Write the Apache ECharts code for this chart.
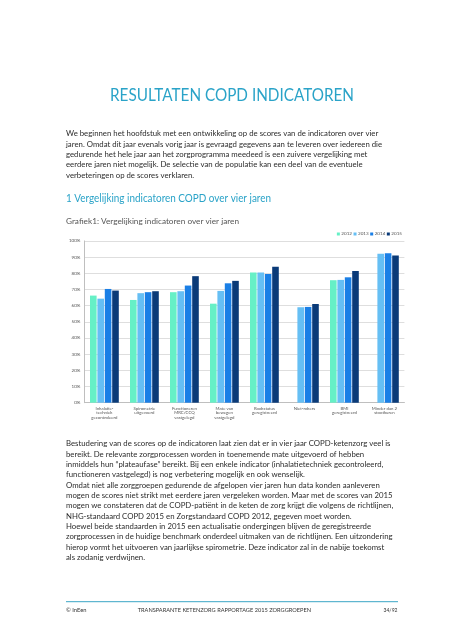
<!DOCTYPE html>
<html>
<head>
<meta charset="utf-8">
<script src="https://cdn.jsdelivr.net/npm/echarts@6/dist/echarts.min.js"></script>
<style>
html,body{margin:0;padding:0;background:#fff;}
#c{width:452px;height:640px;}
</style>
</head>
<body>
<div id="c"></div>
<script>
// ---- data ----
const categories = [
  "Inhalatie-\ntechniek\ngecontroleerd",
  "Spirometrie\nuitgevoerd",
  "Functioneren\nMRC/CCQ\nvastgelegd",
  "Mate van\nbewegen\nvastgelegd",
  "Rookstatus\ngeregistreerd",
  "Niet-rokers",
  "BMI\ngeregistreerd",
  "Minder dan 2\nstootkuren"
];
const years = ["2012", "2013", "2014", "2015"];
const values2012 = [0.662, 0.635, 0.683, 0.612, 0.805, null, 0.757, null];
const values2013 = [0.643, 0.677, 0.689, 0.691, 0.805, 0.590, 0.759, 0.920];
const values2014 = [0.703, 0.683, 0.724, 0.738, 0.796, 0.592, 0.775, 0.924];
const values2015 = [0.693, 0.689, 0.782, 0.753, 0.841, 0.610, 0.814, 0.909];
const yTicks = [0, 0.1, 0.2, 0.3, 0.4, 0.5, 0.6, 0.7, 0.8, 0.9, 1.0];

const pageTitle = "RESULTATEN COPD INDICATOREN";
const para1 = [
  "We beginnen het hoofdstuk met een ontwikkeling op de scores van de indicatoren over vier",
  "jaren. Omdat dit jaar evenals vorig jaar is gevraagd gegevens aan te leveren over iedereen die",
  "gedurende het hele jaar aan het zorgprogramma meedeed is een zuivere vergelijking met",
  "eerdere jaren niet mogelijk. De selectie van de populatie kan een deel van de eventuele",
  "verbeteringen op de scores verklaren."
];
const heading = "1 Vergelijking indicatoren COPD over vier jaren";
const caption = "Grafiek1: Vergelijking indicatoren over vier jaren";
const para2 = [
  "Bestudering van de scores op de indicatoren laat zien dat er in vier jaar COPD-ketenzorg veel is",
  "bereikt. De relevante zorgprocessen worden in toenemende mate uitgevoerd of hebben",
  "inmiddels hun \u201Cplateaufase\u201D bereikt. Bij een enkele indicator (inhalatietechniek gecontroleerd,",
  "functioneren vastgelegd) is nog verbetering mogelijk en ook wenselijk.",
  "Omdat niet alle zorggroepen gedurende de afgelopen vier jaren hun data konden aanleveren",
  "mogen de scores niet strikt met eerdere jaren vergeleken worden. Maar met de scores van 2015",
  "mogen we constateren dat de COPD-pati\u00EBnt in de keten de zorg krijgt die volgens de richtlijnen,",
  "NHG-standaard COPD 2015 en Zorgstandaard COPD 2012, gegeven moet worden.",
  "Hoewel beide standaarden in 2015 een actualisatie ondergingen blijven de geregistreerde",
  "zorgprocessen in de huidige benchmark onderdeel uitmaken van de richtlijnen. Een uitzondering",
  "hierop vormt het uitvoeren van jaarlijkse spirometrie. Deze indicator zal in de nabije toekomst",
  "als zodanig verdwijnen."
];
const footerLeft = "\u00A9 InEen";
const footerMid = "TRANSPARANTE KETENZORG RAPPORTAGE 2015 ZORGGROEPEN";
const footerRight = "34/92";

// ---- layout helpers ----
const FONT = "Lato";
const mctx = document.createElement("canvas").getContext("2d");
function measure(t, size, weight) {
  mctx.font = (weight || "normal") + " " + size + "px " + FONT;
  return mctx.measureText(t).width;
}
function fitScale(t, size, target, weight) { return target / measure(t, size, weight); }

const TEAL = "#2AA3C8";
const BODY = "#2b2b2b";
const graphics = [];
function addText(t, x, y, size, fill, sx, align, weight) {
  graphics.push({
    type: "text", x: x, y: y, scaleX: sx || 1, silent: true,
    style: { text: t, fontSize: size, fontFamily: FONT, fontWeight: weight || "normal",
             fill: fill, align: align || "left", verticalAlign: "middle" }
  });
}

// title
addText(pageTitle, 232, 96, 17, TEAL, fitScale(pageTitle, 17, 244), "center");
// paragraph 1
const bodySize = 8.4;
const bodyScale = (fitScale(para1[0], bodySize, 312) + fitScale(para2[0], bodySize, 324.7)) / 2;
para1.forEach((l, i) => addText(l, 66, 133.6 + i * 10.33, bodySize, BODY, bodyScale));
// heading + caption
addText(heading, 66, 198.5, 11, TEAL, fitScale(heading, 11, 205));
addText(caption, 66, 221, bodySize, "#555555", fitScale(caption, bodySize, 173));
// paragraph 2
para2.forEach((l, i) => addText(l, 66, 443.5 + i * 10.33, bodySize, BODY, bodyScale));
// footer
graphics.push({ type: "line", silent: true, shape: { x1: 66, y1: 601.7, x2: 398, y2: 601.7 },
  style: { stroke: "#3AA6C6", lineWidth: 1 } });
addText(footerLeft, 66, 609.8, 5.5, "#333", fitScale(footerLeft, 5.5, 20.5));
addText(footerMid, 137.7, 609.8, 5.5, "#333", fitScale(footerMid, 5.5, 173.3));
addText(footerRight, 397.5, 609.8, 5.5, "#333", fitScale(footerRight, 5.5, 14), "right");

const colors = ["#66F0C6", "#66BFF4", "#1A7FE6", "#0A3A78"];
const seriesValues = [values2012, values2013, values2014, values2015];

const chart = echarts.init(document.getElementById("c"), null, { renderer: "canvas" });
chart.setOption({
  animation: false,
  backgroundColor: "#fff",
  color: colors,
  graphic: graphics,
  legend: {
    data: years, right: 50, top: 231.5, itemWidth: 3, itemHeight: 3, itemGap: 1.5,
    icon: "rect", padding: 0,
    textStyle: { fontSize: 4.6, fontFamily: FONT, color: "#555", padding: [0, 0, 0, -3.5] }
  },
  grid: { left: 84.4, right: 47.6, top: 240.9, bottom: 237.3, containLabel: false },
  xAxis: {
    type: "category", data: categories,
    axisLine: { lineStyle: { color: "#bfbfbf", width: 1 } },
    axisTick: { show: false },
    axisLabel: { interval: 0, fontSize: 4.3, lineHeight: 4.4, color: "#555", fontFamily: FONT, margin: 3.5 }
  },
  yAxis: {
    type: "value", min: 0, max: 1, interval: 0.1,
    axisLine: { show: true, lineStyle: { color: "#bfbfbf", width: 1 } },
    axisTick: { show: false },
    splitLine: { lineStyle: { color: "#dedede", width: 1 } },
    axisLabel: { fontSize: 4.5, color: "#555", fontFamily: FONT, margin: 4,
      formatter: v => Math.round(v * 100) + "%" }
  },
  series: years.map((y, i) => ({
    name: y, type: "bar", data: seriesValues[i],
    barGap: "12%", barCategoryGap: "28%",
    itemStyle: { color: colors[i] }
  }))
});
</script>
</body>
</html>
